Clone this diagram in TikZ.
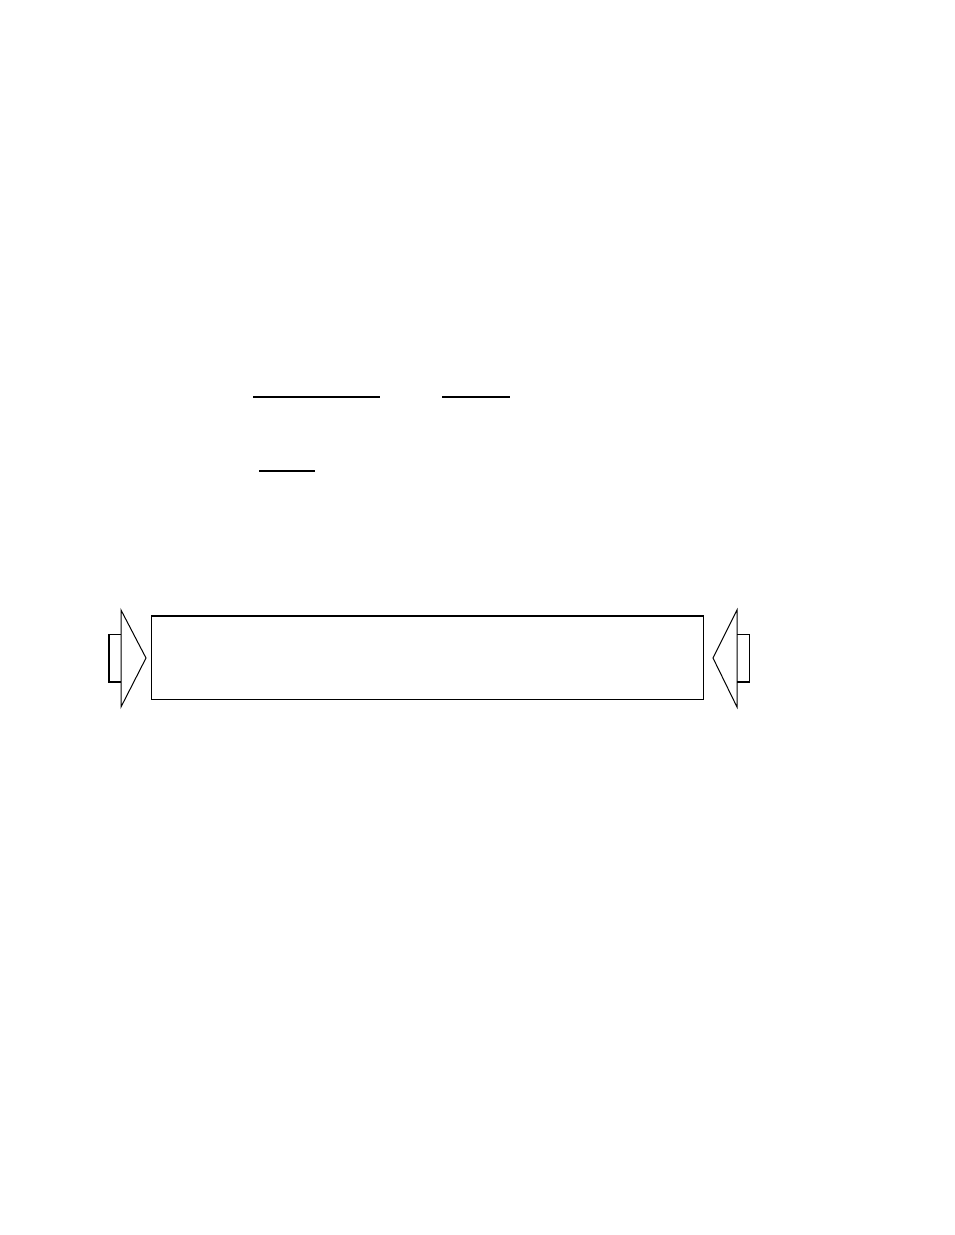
\documentclass[tikz,border=0pt]{standalone}
\begin{document}
\begin{tikzpicture}[x=1pt,y=-1pt,
  thinline/.style={line width=1pt, line join=miter},
  heavyline/.style={line width=1.7pt},
  rule/.style={line width=1.4pt}]
\useasboundingbox (0,0) rectangle (954,1235);
% underline rules
\draw[rule] (253,397) -- (380,397);
\draw[rule] (442,397) -- (510,397);
\draw[rule] (259,471) -- (315,471);
% main box
\node[draw, thinline, minimum width=552pt, minimum height=83pt, inner sep=0pt, anchor=north west] (main) at (151,616) {};
\draw[heavyline] (main.north west) -- (main.north east);
% left arrow
\draw[thinline] (121,634) -- (108.5,634);
\draw[heavyline] (108.8,634) -- (108.8,682.2) -- (121,682.2);
\draw[thinline] (121,610) -- (146,658) -- (121,707) -- cycle;
% right arrow
\draw[thinline] (737,634) -- (749.5,634) -- (749.5,682.5);
\draw[heavyline] (737,682.2) -- (749.5,682.2);
\draw[thinline] (737,610) -- (713,658) -- (737,707) -- cycle;
\end{tikzpicture}
\end{document}
